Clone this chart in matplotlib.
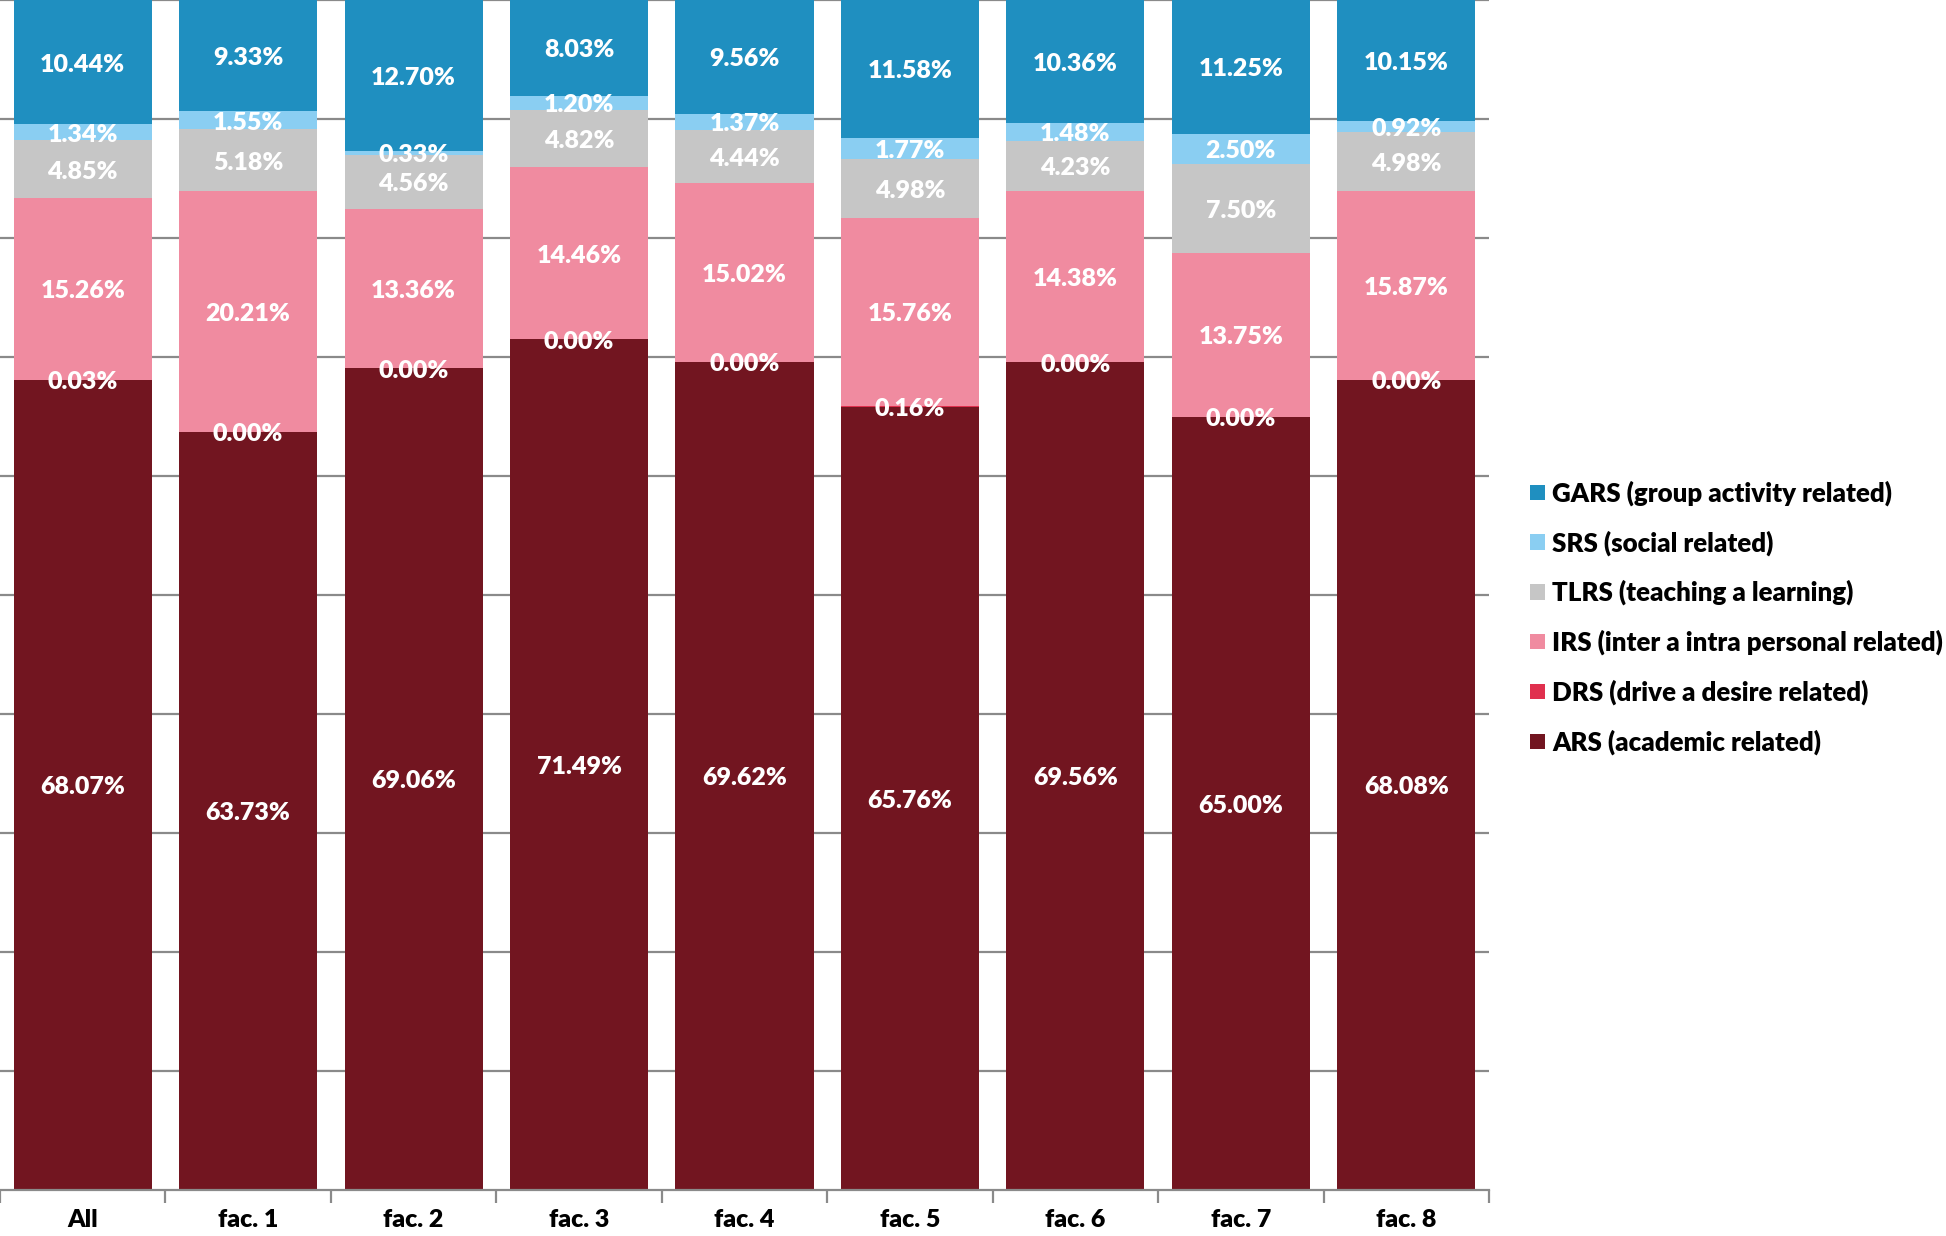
import matplotlib
matplotlib.use("Agg")
import matplotlib.pyplot as plt
import numpy as np

cats = ['All', 'fac. 1', 'fac. 2', 'fac. 3', 'fac. 4', 'fac. 5', 'fac. 6', 'fac. 7', 'fac. 8']

# stacked from bottom to top
ars  = [68.07, 63.73, 69.06, 71.49, 69.62, 65.76, 69.56, 65.00, 68.08]
drs  = [0.03, 0.00, 0.00, 0.00, 0.00, 0.16, 0.00, 0.00, 0.00]
irs  = [15.26, 20.21, 13.36, 14.46, 15.02, 15.76, 14.38, 13.75, 15.87]
tlrs = [4.85, 5.18, 4.56, 4.82, 4.44, 4.98, 4.23, 7.50, 4.98]
srs  = [1.34, 1.55, 0.33, 1.20, 1.37, 1.77, 1.48, 2.50, 0.92]
gars = [10.44, 9.33, 12.70, 8.03, 9.56, 11.58, 10.36, 11.25, 10.15]

series = [ars, drs, irs, tlrs, srs, gars]
names = ['ARS (academic related)', 'DRS (drive a desire related)',
         'IRS (inter a intra personal related)', 'TLRS (teaching a learning)',
         'SRS (social related)', 'GARS (group activity related)']
colors = ['#721520', '#E0304E', '#F08BA0', '#C6C6C6', '#8ACEF2', '#1F8FC0']

plt.rcParams['font.family'] = ['Lato', 'DejaVu Sans']
W = 'heavy'

fig = plt.figure(figsize=(19.46, 12.36), dpi=100)
ax = fig.add_axes([0, 46/1236, 1489/1946, 1190/1236])

x = np.arange(len(cats))
bottom = np.zeros(len(cats))
handles = []
for vals, nm, c in zip(series, names, colors):
    vals = np.array(vals)
    b = ax.bar(x, vals, 0.835, bottom=bottom, color=c, label=nm, zorder=2)
    handles.append(b)
    for xi, v, bt in zip(x, vals, bottom):
        ax.text(xi, bt + v / 2 - 0.2, f'{v:.2f}%', ha='center', va='center',
                color='white', fontsize=18, fontweight=W, zorder=3)
    bottom += vals

ax.set_xlim(-0.5, len(cats) - 0.5)
ax.set_ylim(0, 100)
ax.set_yticks(np.arange(10, 101, 10))
ax.yaxis.grid(True, color='#8a8a8a', lw=1.6, zorder=0)
ax.set_axisbelow(True)
ax.tick_params(axis='y', left=False, labelleft=False)

ax.set_xticks(x)
ax.set_xticklabels(cats, fontsize=18, fontweight=W)
ax.set_xticks(np.arange(-0.5, len(cats), 1), minor=True)
ax.tick_params(axis='x', which='major', length=0, pad=14)
ax.tick_params(axis='x', which='minor', length=9, width=1.6, color='#8a8a8a')

for s in ['top', 'right', 'left']:
    ax.spines[s].set_visible(False)
ax.spines['bottom'].set_color('#8a8a8a')
ax.spines['bottom'].set_linewidth(1.6)

leg = fig.legend(handles[::-1], names[::-1], loc='upper left',
                 bbox_to_anchor=(1520/1946, 1 - 470/1236), frameon=False,
                 prop={'size': 18.6, 'weight': W},
                 handlelength=0.55, handleheight=0.55, handletextpad=0.3,
                 labelspacing=0.94, borderaxespad=0)

fig.savefig('out.png', dpi=100)
